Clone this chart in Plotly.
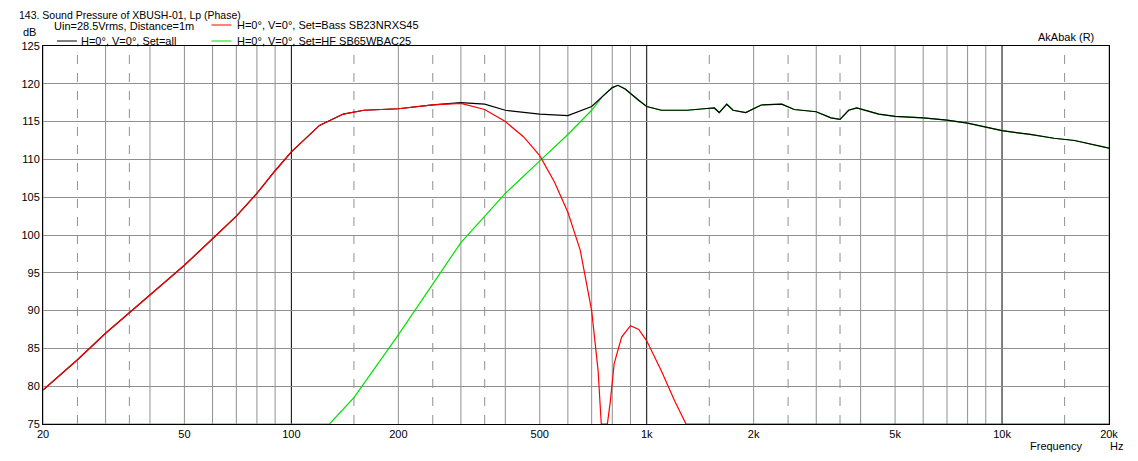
import plotly.graph_objects as go

# all (black)
f_all = [20, 25, 30, 40, 50, 60, 70, 80, 90, 100, 120, 140, 160, 200, 250, 300, 350, 400, 500, 600,
         700, 750, 800, 830, 870, 950, 1000, 1100, 1300, 1450, 1550, 1600, 1680, 1750, 1900, 2100,
         2400, 2600, 3000, 3300, 3500, 3700, 3900, 4500, 5000, 6000, 7000, 8000, 10000, 12000,
         14000, 16000, 18000, 20000]
spl_all = [79.5, 83.5, 87, 92, 96, 99.5, 102.5, 105.5, 108.5, 111, 114.5, 116, 116.5, 116.7, 117.2,
           117.5, 117.3, 116.5, 116, 115.8, 117, 118.3, 119.5, 119.8, 119.3, 117.8, 117, 116.5,
           116.5, 116.7, 116.8, 116.2, 117.3, 116.5, 116.2, 117.2, 117.3, 116.6, 116.3, 115.5,
           115.3, 116.5, 116.8, 116.0, 115.7, 115.5, 115.2, 114.8, 113.8, 113.3, 112.8, 112.5,
           112.0, 111.5]

# bass (red)
f_bass = [20, 25, 30, 40, 50, 60, 70, 80, 90, 100, 120, 140, 160, 200, 250, 300, 350, 400, 450,
          500, 550, 600, 650, 700, 730, 745, 760, 775, 790, 810, 850, 900, 950, 1000, 1100, 1200,
          1290, 20000]
spl_bass = [79.5, 83.5, 87, 92, 96, 99.5, 102.5, 105.5, 108.5, 111, 114.5, 116, 116.5, 116.7, 117.2,
            117.4, 116.6, 115, 113, 110.5, 107, 103, 98, 90, 82, 75, 75, 75, 78, 83, 86.5, 88,
            87.5, 86, 82, 78, 75, 75]

# hf (green)
f_hf = [20, 128, 150, 200, 300, 400, 500, 600, 700, 750, 800, 830, 870, 950, 1000, 1100, 1300,
        1450, 1550, 1600, 1680, 1750, 1900, 2100, 2400, 2600, 3000, 3300, 3500, 3700, 3900,
        4500, 5000, 6000, 7000, 8000, 10000, 12000, 14000, 16000, 18000, 20000]
spl_hf = [75, 75, 78.5, 86.8, 99, 105.5, 109.8, 113.3, 116.5, 118.3, 119.5, 119.8, 119.3, 117.8,
          117, 116.5, 116.5, 116.7, 116.8, 116.2, 117.3, 116.5, 116.2, 117.2, 117.3, 116.6, 116.3,
          115.5, 115.3, 116.5, 116.8, 116.0, 115.7, 115.5, 115.2, 114.8, 113.8, 113.3, 112.8,
          112.5, 112.0, 111.5]

x_ticks = [20, 50, 100, 200, 500, 1000, 2000, 5000, 10000, 20000]
x_labels = ["20", "50", "100", "200", "500", "1k", "2k", "5k", "10k", "20k"]
y_ticks = list(range(75, 130, 5))

OFF = 8  # page body margin
W, H = 1138 - 2 * OFF, 461 - 2 * OFF
L, R, T, B = 43 - OFF, 1112 - OFF, 46 - OFF, 424 - OFF


def px(x):
    return (x - OFF - L) / (R - L)


def py(y):
    return (B - (y - OFF)) / (B - T)


fig = go.Figure()
fig.add_trace(go.Scatter(x=f_hf, y=spl_hf, mode='lines', line=dict(color='#00e000', width=1.2),
                         cliponaxis=False))
fig.add_trace(go.Scatter(x=f_all, y=spl_all, mode='lines', line=dict(color='black', width=1.2)))
fig.add_trace(go.Scatter(x=f_bass, y=spl_bass, mode='lines', line=dict(color='#ff0000', width=1.2),
                         cliponaxis=False))

shapes = []
# vertical grid
for dec in [10, 100, 1000, 10000]:
    for m in range(1, 10):
        f = dec * m
        if f < 20 or f > 20000:
            continue
        col = 'black' if m == 1 else '#909090'
        shapes.append(dict(type='line', xref='x', yref='paper', x0=f, x1=f, y0=0, y1=1,
                           line=dict(color=col, width=1), layer='below'))
    for m in [1.5, 2.5, 3.5]:
        f = dec * m
        if 20 < f < 20000:
            shapes.append(dict(type='line', xref='x', yref='paper', x0=f, x1=f, y0=0, y1=1,
                               line=dict(color='#909090', width=1, dash='dash'), layer='below'))
# legend glyphs
for x0, y0, col in [(57, 41, 'black'), (212, 25, '#ff0000'), (212, 41, '#00e000')]:
    shapes.append(dict(type='line', xref='paper', yref='paper', x0=px(x0), x1=px(x0 + 20),
                       y0=py(y0), y1=py(y0), line=dict(color=col, width=1)))

ann = []
def txt(x, y, s, anchor='left', va='middle', size=11):
    ann.append(dict(xref='paper', yref='paper', x=px(x), y=py(y), text=s, showarrow=False,
                    xanchor=anchor, yanchor=va, borderpad=0, font=dict(size=size, color='black')))

txt(18, 8, "143. Sound Pressure of XBUSH-01, Lp (Phase)", va='top', size=10.5)
txt(53, 26, "Uin=28.5Vrms, Distance=1m")
txt(80, 41, "H=0°, V=0°, Set=all")
txt(237, 25, "H=0°, V=0°, Set=Bass SB23NRXS45")
txt(237, 41, "H=0°, V=0°, Set=HF SB65WBAC25")
txt(37, 32, "dB", 'right')
txt(1098, 37, "AkAbak (R)", 'right')
txt(1086, 453, "Frequency", 'right', 'bottom')
txt(1112, 453, "Hz", va='bottom')

fig.update_layout(
    width=W, height=H,
    margin=dict(l=L, r=W - R, t=T, b=H - B),
    paper_bgcolor='white', plot_bgcolor='white',
    showlegend=False,
    font=dict(family='Liberation Sans, Arial', size=11, color='black'),
    shapes=shapes, annotations=ann,
    xaxis=dict(type='log', range=[1.30103, 4.30103], tickvals=x_ticks, ticktext=x_labels,
               showgrid=False, showline=True, linecolor='black', mirror=True, ticks='',
               zeroline=False),
    yaxis=dict(range=[75, 125], tickvals=y_ticks, showgrid=True, gridcolor='#909090',
               showline=True, linecolor='black', mirror=True, ticks='', zeroline=False),
)

fig.write_html("out.html")
